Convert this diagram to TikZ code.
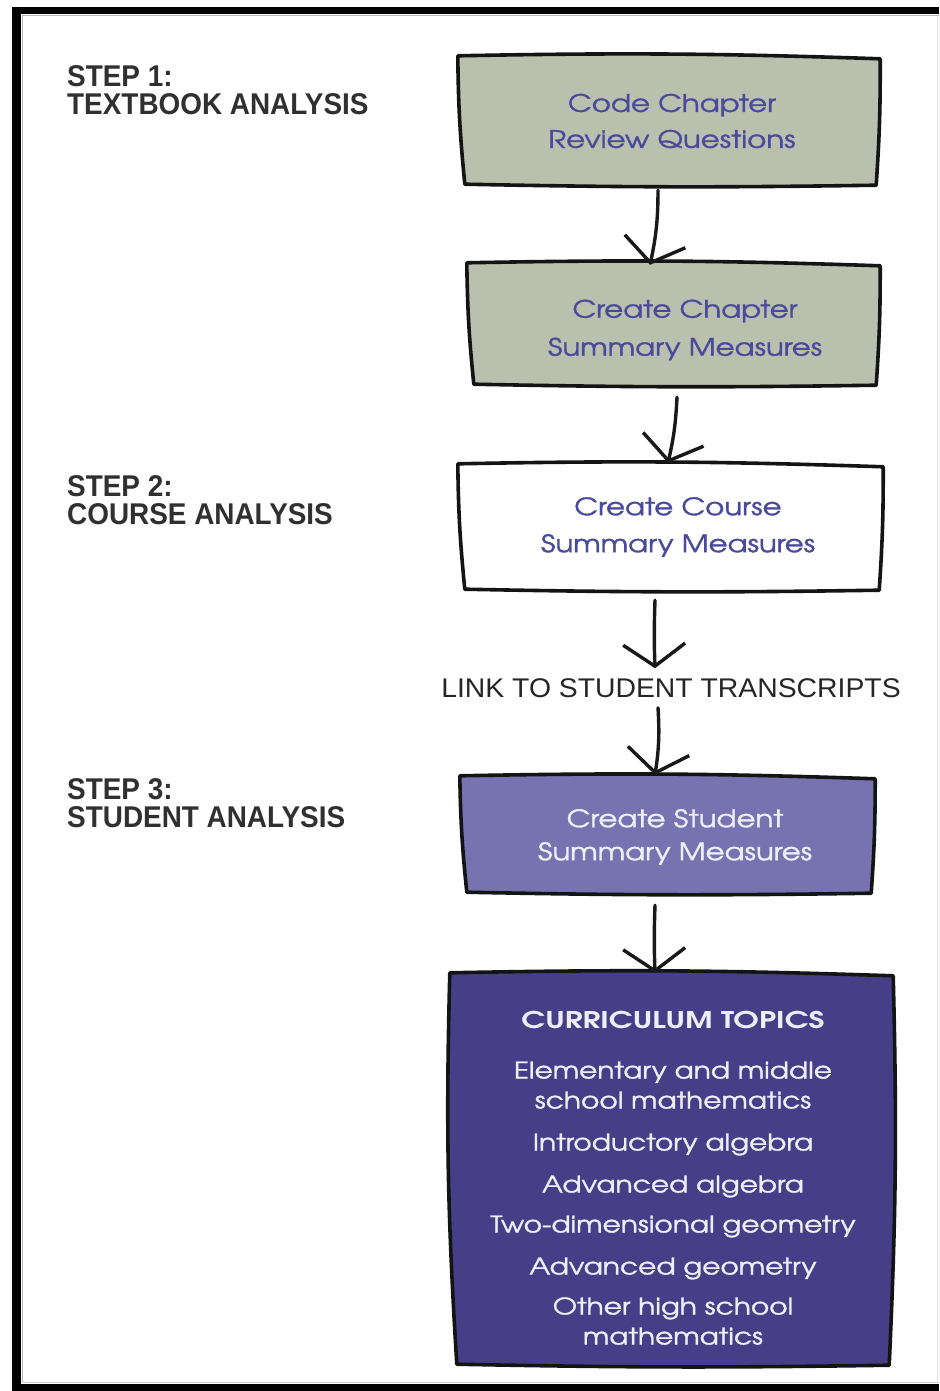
\documentclass[tikz,border=0pt]{standalone}
\usepackage{fontspec}
\usetikzlibrary{arrows.meta,backgrounds,calc}
\newfontfamily\advfont{texgyreadventor}[Extension=.otf,UprightFont=*-regular,FakeStretch=1.22,FakeBold=1.3]
\newfontfamily\advbold{texgyreadventor}[Extension=.otf,UprightFont=*-bold,FakeStretch=1.33]
\newfontfamily\stepfont{Liberation Sans}[FakeStretch=0.93]
\newfontfamily\handfont{Liberation Sans}[FakeStretch=1.05]
\definecolor{boxgreen}{HTML}{B9C0AE}
\definecolor{boxlilac}{HTML}{7773B1}
\definecolor{boxdeep}{HTML}{463F88}
\definecolor{txtblue}{HTML}{4A4A9C}
\definecolor{txtlight}{HTML}{EEEEF8}
\definecolor{stepgray}{HTML}{303030}
\tikzset{
  sk/.style={line width=3.6pt, line join=round, line cap=round, draw=black!92},
  conn/.style={line width=3.4pt, line cap=round, draw=black!90,
    -{Straight Barb[length=22pt,width=62pt,line width=3.4pt]}},
  boxarea/.style={minimum width=#1, inner sep=0pt, draw=none},
  boxtxt/.style={font=\advfont\fontsize{24}{36}\selectfont, align=center, text=txtblue, inner sep=0pt},
  lighttxt/.style={font=\advfont\fontsize{24}{33}\selectfont, align=center, text=txtlight, inner sep=0pt},
  steplbl/.style={font=\stepfont\bfseries\fontsize{30}{28}\selectfont, align=left, anchor=north west, text=stepgray, inner sep=0pt},
  linklbl/.style={font=\handfont\fontsize{27}{27}\selectfont, text=black!85, inner sep=0pt}
}
\newcommand\skbox[2]{%
  \draw[sk,fill=#2] ([shift={(-5,-2)}]#1.north west) to[bend left=1.5]
    ([shift={(3,1)}]#1.north east) to[bend left=2]
    ([shift={(-1,0)}]#1.south east) to[bend left=1]
    ([shift={(2,-1)}]#1.south west) to[bend left=2.5]
    ([shift={(-5,-2)}]#1.north west) -- cycle;}
\begin{document}
\begin{tikzpicture}[x=1pt,y=-1pt]
\useasboundingbox (0,0) rectangle (939,1391);
\fill[white] (0,0) rectangle (939,1391);
% frame
\fill[black] (12,7) rectangle (939,14);
\fill[black] (12,7) rectangle (21,1391);
\fill[black] (12,1384) rectangle (939,1391);
\draw[gray!55, line width=1pt] (22,15.5) -- (939,15.5);
\draw[gray!55, line width=1pt] (22.5,15) -- (22.5,1383);
\draw[gray!40, line width=1pt] (22,1382.5) -- (939,1382.5);
\draw[gray!25, line width=0.8pt] (937,16) -- (937,1382);

% box areas
\node[boxarea=414pt, minimum height=127pt] (b1) at (670,121.5) {};
\node[boxarea=405pt, minimum height=120pt] (b2) at (674.5,325) {};
\node[boxarea=417pt, minimum height=124pt] (b3) at (671.5,528) {};
\node[boxarea=407pt, minimum height=115pt] (b4) at (668.5,835.5) {};
\node[boxarea=435pt, minimum height=390pt] (b5) at (672.5,1170) {};

\skbox{b1}{boxgreen}
\skbox{b2}{boxgreen}
\skbox{b3}{white}
\skbox{b4}{boxlilac}
\skbox{b5}{boxdeep}

% texts
\node[boxtxt] (t1) at (672,121) {Code Chapter\\Review Questions};
\node[boxtxt, font=\advfont\fontsize{24}{38}\selectfont] (t2) at (685,330) {Create Chapter\\Summary Measures};
\node[boxtxt, font=\advfont\fontsize{24}{37}\selectfont] (t3) at (678,527) {Create Course\\Summary Measures};
\node[lighttxt] (t4) at (675,837) {Create Student\\Summary Measures};
\node[lighttxt, font=\advfont\fontsize{23}{30}\selectfont] (t5) at (673,1178) {%
  {\advbold CURRICULUM TOPICS}\\[20pt]
  Elementary and middle\\ school mathematics\\[12pt]
  Introductory algebra\\[12pt]
  Advanced algebra\\[10pt]
  Two-dimensional geometry\\[12pt]
  Advanced geometry\\[10pt]
  Other high school\\ mathematics};

% step labels
\node[steplbl] (s1) at (67,65) {STEP 1:\\TEXTBOOK ANALYSIS};
\node[steplbl] (s2) at (67,475) {STEP 2:\\COURSE ANALYSIS};
\node[steplbl] (s3) at (67,778) {STEP 3:\\STUDENT ANALYSIS};

% link label
\node[linklbl] (link) at (671,688) {LINK TO STUDENT TRANSCRIPTS};

% connectors
\draw[conn] ([shift={(-12,5)}]b1.south) to[bend left=6] ([shift={(-24.5,0)}]b2.north);
\draw[conn] ([shift={(2.5,12)}]b2.south) to[bend left=5] ([shift={(-3.5,-3)}]b3.north);
\draw[conn] ([shift={(-16.5,10)}]b3.south) to[bend right=2] ([shift={(-16,-10)}]link.north);
\draw[conn] ([shift={(-13,10)}]link.south) to[bend left=6] ([shift={(-13.5,-3)}]b4.north);
\draw[conn] ([shift={(-13.5,12)}]b4.south) to[bend right=2] ([shift={(-17.5,-2)}]b5.north);
\end{tikzpicture}
\end{document}
